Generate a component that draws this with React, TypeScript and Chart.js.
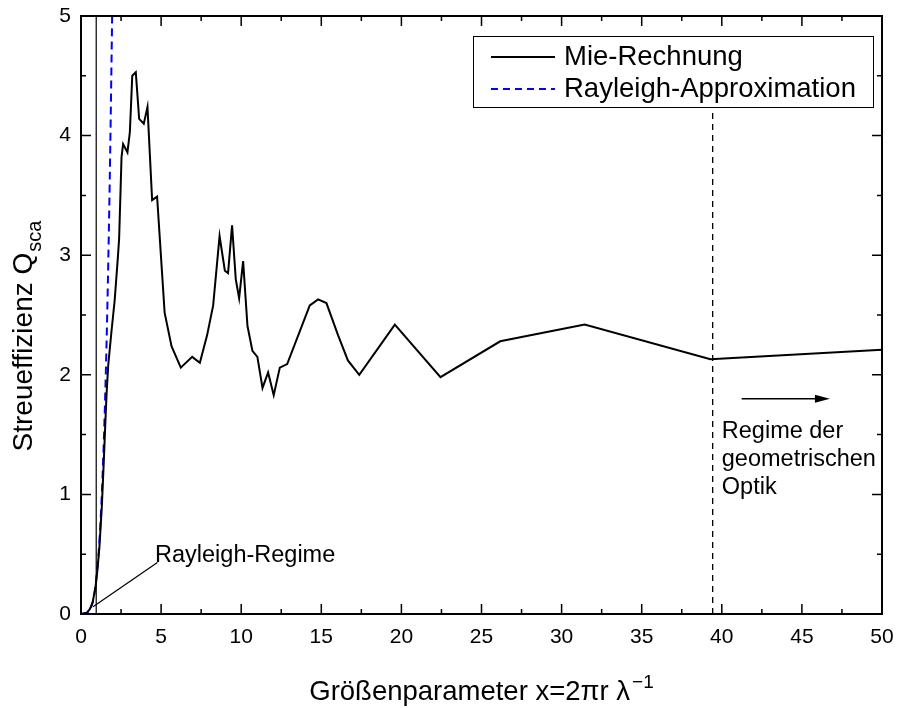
import React, { useEffect, useRef } from "react";
import { Chart, registerables } from "chart.js";

Chart.register(...registerables);

// ---- data ----
const mieX = [0, 0.35, 0.55, 0.73, 0.9, 1.02, 1.15, 1.3, 1.42, 1.52, 1.6, 1.7, 1.9, 2.1, 2.3, 2.38, 2.53, 2.63, 2.9, 3.05, 3.2, 3.42, 3.63, 3.92, 4.15, 4.44, 4.75, 5.22, 5.65, 6.23, 6.94, 7.42, 7.87, 8.25, 8.65, 8.98, 9.18, 9.43, 9.66, 9.87, 10.12, 10.39, 10.7, 11.01, 11.33, 11.68, 12.03, 12.41, 12.87, 14.28, 14.8, 15.32, 16.05, 16.66, 17.37, 19.59, 22.44, 26.17, 31.44, 39.29, 50];
const mieY = [0, 0.01, 0.04, 0.1, 0.22, 0.36, 0.56, 0.9, 1.27, 1.6, 1.85, 2.08, 2.36, 2.62, 2.98, 3.14, 3.82, 3.93, 3.86, 4.03, 4.5, 4.53, 4.14, 4.1, 4.24, 3.46, 3.49, 2.52, 2.24, 2.06, 2.15, 2.1, 2.33, 2.58, 3.16, 2.87, 2.85, 3.25, 2.8, 2.64, 2.95, 2.41, 2.2, 2.15, 1.89, 2.02, 1.83, 2.06, 2.09, 2.58, 2.63, 2.6, 2.33, 2.12, 2.0, 2.42, 1.98, 2.28, 2.42, 2.13, 2.21];

const rayX = [0, 0.4, 0.6, 0.8, 1.0, 1.15, 1.3, 1.45, 1.58, 1.7, 1.82, 1.945];
const rayY = [0, 0.01, 0.045, 0.14, 0.35, 0.61, 1.0, 1.55, 2.18, 2.92, 3.84, 5.0];

const xTickValues = [0, 5, 10, 15, 20, 25, 30, 35, 40, 45, 50];
const yTickValues = [0, 1, 2, 3, 4, 5];

const seriesNames = ["Mie-Rechnung", "Rayleigh-Approximation"];
const xTitleMain = "Größenparameter x=2πr λ";
const xTitleSup = "−1";
const yTitleMain = "Streueffizienz Q";
const yTitleSub = "sca";
const rayleighLabel = "Rayleigh-Regime";
const geoLabel = ["Regime der", "geometrischen", "Optik"];

const FONT = "'Liberation Sans', Arial, sans-serif";

const decoPlugin = {
  id: "deco",
  afterDatasetsDraw(chart: any) {
    const ctx: CanvasRenderingContext2D = chart.ctx;
    const a = chart.chartArea;
    const xs = chart.scales.x;
    const ys = chart.scales.y;
    const px = (v: number) => xs.getPixelForValue(v);
    const py = (v: number) => ys.getPixelForValue(v);
    ctx.save();
    ctx.strokeStyle = "#000";
    ctx.fillStyle = "#000";

    // thin vertical boundary line of the Rayleigh regime
    ctx.lineWidth = 1.2;
    ctx.beginPath();
    ctx.moveTo(px(0.95), a.bottom);
    ctx.lineTo(px(0.95), a.top);
    ctx.stroke();

    // legend box geometry
    const lgRight = a.right - 9;
    const lgLeft = lgRight - 400;
    const lgTop = a.top + 20;
    const lgBottom = lgTop + 71;

    // vertical dashed line at geometric optics boundary
    ctx.lineWidth = 1.3;
    ctx.setLineDash([6, 5]);
    ctx.beginPath();
    ctx.moveTo(px(39.43), a.bottom);
    ctx.lineTo(px(39.43), lgBottom + 3);
    ctx.stroke();
    ctx.setLineDash([]);

    // arrow
    const ay = py(1.8);
    const ax0 = px(41.24);
    const ax1 = px(46.75);
    ctx.lineWidth = 1.6;
    ctx.beginPath();
    ctx.moveTo(ax0, ay);
    ctx.lineTo(ax1 - 10, ay);
    ctx.stroke();
    ctx.beginPath();
    ctx.moveTo(ax1, ay);
    ctx.lineTo(ax1 - 15, ay - 4);
    ctx.lineTo(ax1 - 15, ay + 4);
    ctx.closePath();
    ctx.fill();

    // geometric optics text
    ctx.font = `23.5px ${FONT}`;
    ctx.textAlign = "left";
    ctx.textBaseline = "alphabetic";
    const gx = px(40.0);
    const gy0 = py(1.47);
    geoLabel.forEach((t, i) => ctx.fillText(t, gx, gy0 + i * 28));

    // Rayleigh regime annotation
    ctx.textBaseline = "middle";
    ctx.fillText(rayleighLabel, px(4.62), py(0.49));
    ctx.lineWidth = 1.2;
    ctx.beginPath();
    ctx.moveTo(px(4.77), py(0.43));
    ctx.lineTo(px(0.75), py(0.06));
    ctx.stroke();

    // ticks (inward, all four sides)
    ctx.lineWidth = 1.5;
    for (let v = 0; v <= 50.001; v += 2.5) {
      const len = Math.abs(v % 5) < 1e-6 ? 10 : 5;
      const x = px(v);
      ctx.beginPath();
      ctx.moveTo(x, a.bottom);
      ctx.lineTo(x, a.bottom - len);
      ctx.moveTo(x, a.top);
      ctx.lineTo(x, a.top + len);
      ctx.stroke();
    }
    for (let v = 0; v <= 5.001; v += 0.5) {
      const len = Math.abs(v - Math.round(v)) < 1e-6 ? 10 : 5;
      const y = py(v);
      ctx.beginPath();
      ctx.moveTo(a.left, y);
      ctx.lineTo(a.left + len, y);
      ctx.moveTo(a.right, y);
      ctx.lineTo(a.right - len, y);
      ctx.stroke();
    }

    // frame
    ctx.lineWidth = 2;
    ctx.strokeRect(a.left, a.top, a.right - a.left, a.bottom - a.top);

    // legend
    ctx.fillStyle = "#fff";
    ctx.fillRect(lgLeft, lgTop, lgRight - lgLeft, lgBottom - lgTop);
    ctx.lineWidth = 1;
    ctx.strokeStyle = "#000";
    ctx.strokeRect(lgLeft + 0.5, lgTop + 0.5, lgRight - lgLeft, lgBottom - lgTop);
    const row1 = lgTop + 21;
    const row2 = lgTop + 53;
    ctx.lineWidth = 2;
    ctx.strokeStyle = "#000";
    ctx.beginPath();
    ctx.moveTo(lgLeft + 18, row1);
    ctx.lineTo(lgLeft + 82, row1);
    ctx.stroke();
    ctx.strokeStyle = "#0000ff";
    ctx.setLineDash([7, 5]);
    ctx.beginPath();
    ctx.moveTo(lgLeft + 18, row2);
    ctx.lineTo(lgLeft + 82, row2);
    ctx.stroke();
    ctx.setLineDash([]);
    ctx.fillStyle = "#000";
    ctx.font = `27.5px ${FONT}`;
    ctx.textBaseline = "middle";
    ctx.fillText(seriesNames[0], lgLeft + 91, row1);
    ctx.fillText(seriesNames[1], lgLeft + 91, row2);

    // x title with superscript
    const tSize = 27.5;
    const sSize = Math.round(tSize * 0.7);
    ctx.font = `${tSize}px ${FONT}`;
    ctx.textBaseline = "alphabetic";
    const mainW = ctx.measureText(xTitleMain).width;
    ctx.font = `${sSize}px ${FONT}`;
    const supW = ctx.measureText(xTitleSup).width;
    const cx = (a.left + a.right) / 2;
    const startX = cx - (mainW + supW + 2) / 2;
    const baseY = a.bottom + 86;
    ctx.font = `${tSize}px ${FONT}`;
    ctx.fillText(xTitleMain, startX, baseY);
    ctx.font = `${sSize}px ${FONT}`;
    ctx.fillText(xTitleSup, startX + mainW + 2, baseY - 12);

    // y title with subscript (rotated)
    const yt = 28;
    const ysz = Math.round(yt * 0.7);
    ctx.save();
    ctx.translate(32, 336);
    ctx.rotate(-Math.PI / 2);
    ctx.font = `${yt}px ${FONT}`;
    const yMainW = ctx.measureText(yTitleMain).width;
    ctx.font = `${ysz}px ${FONT}`;
    const ySubW = ctx.measureText(yTitleSub).width;
    const ys0 = -(yMainW + ySubW + 1) / 2;
    ctx.font = `${yt}px ${FONT}`;
    ctx.fillText(yTitleMain, ys0, 0);
    ctx.font = `${ysz}px ${FONT}`;
    ctx.fillText(yTitleSub, ys0 + yMainW + 1, 9);
    ctx.restore();

    ctx.restore();
  },
};

export default function App() {
  const ref = useRef<HTMLCanvasElement | null>(null);
  useEffect(() => {
    if (!ref.current) return;
    const chart = new Chart(ref.current, {
      type: "line",
      data: {
        datasets: [
          {
            label: seriesNames[0],
            data: mieX.map((x, i) => ({ x, y: mieY[i] })),
            borderColor: "#000",
            borderWidth: 2,
            pointRadius: 0,
            tension: 0,
            fill: false,
          },
          {
            label: seriesNames[1],
            data: rayX.map((x, i) => ({ x, y: rayY[i] })),
            borderColor: "#0000ff",
            borderWidth: 2,
            borderDash: [8, 5],
            pointRadius: 0,
            tension: 0.4,
            cubicInterpolationMode: "monotone",
            fill: false,
          },
        ],
      },
      options: {
        animation: false,
        responsive: false,
        events: [],
        layout: { padding: { top: 16, right: 16, left: 0, bottom: 0 } },
        plugins: { legend: { display: false }, tooltip: { enabled: false }, title: { display: false } },
        scales: {
          x: {
            type: "linear",
            min: 0,
            max: 50,
            grid: { display: false, drawTicks: false },
            border: { display: false },
            afterBuildTicks: (s: any) => {
              s.ticks = xTickValues.map((v) => ({ value: v }));
            },
            afterFit: (s: any) => {
              s.height = 94;
              s.paddingLeft = 0;
              s.paddingRight = 0;
            },
            ticks: {
              color: "#000",
              padding: 11,
              maxRotation: 0,
              autoSkip: false,
              font: { family: FONT, size: 21 },
              callback: (v: any) => String(v),
            },
          },
          y: {
            type: "linear",
            min: 0,
            max: 5,
            grid: { display: false, drawTicks: false },
            border: { display: false },
            afterBuildTicks: (s: any) => {
              s.ticks = yTickValues.map((v) => ({ value: v }));
            },
            afterFit: (s: any) => {
              s.width = 81;
              s.paddingTop = 0;
              s.paddingBottom = 0;
            },
            ticks: {
              color: "#000",
              padding: 10,
              autoSkip: false,
              font: { family: FONT, size: 21 },
              callback: (v: any) => String(v),
            },
          },
        },
      },
      plugins: [decoPlugin],
    } as any);
    return () => chart.destroy();
  }, []);
  return (
    <div style={{ position: "absolute", left: 0, top: 0, width: 898, height: 708, background: "#fff" }}>
      <canvas ref={ref} width={898} height={708} style={{ display: "block" }} />
    </div>
  );
}
